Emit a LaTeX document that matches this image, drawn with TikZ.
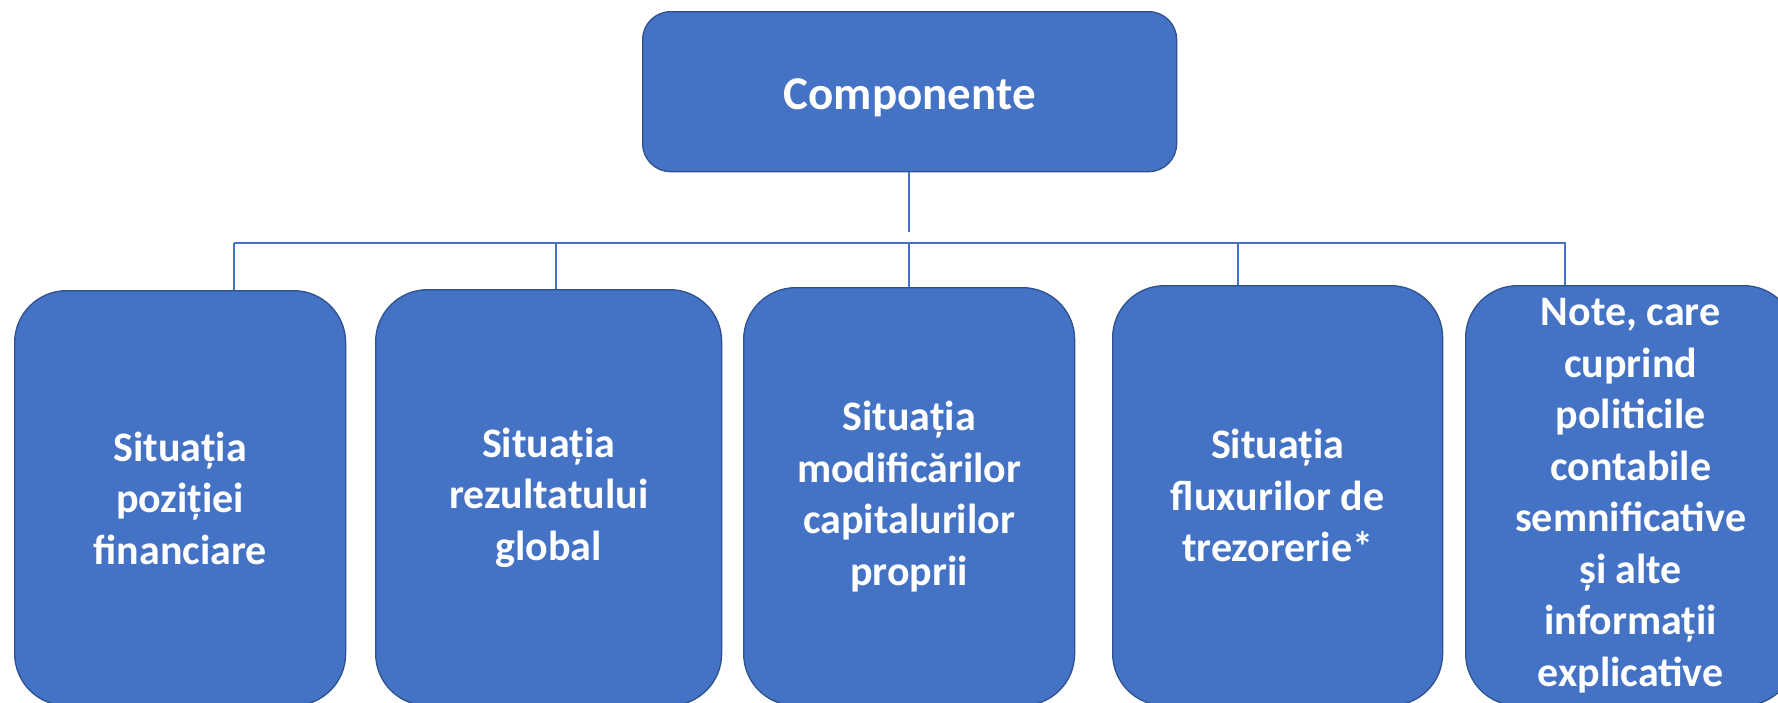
\documentclass[tikz,border=0pt]{standalone}
\usepackage{fontspec}
\setmainfont{Carlito}
\definecolor{boxfill}{HTML}{4472C4}
\definecolor{boxline}{HTML}{2F528F}
\definecolor{linkcol}{HTML}{4472C4}
\tikzset{
  card/.style={draw=boxline, line width=1.3pt, fill=boxfill,
    rounded corners=52pt, anchor=north west, inner sep=0pt,
    text=white, align=center,
    font=\fontsize{42}{51.5}\selectfont\bfseries},
  headcard/.style={card, rounded corners=28pt,
    font=\fontsize{47}{56}\selectfont\bfseries},
  link/.style={draw=linkcol, line width=1.4pt}
}
\begin{document}
\begin{tikzpicture}[x=1pt,y=-1pt]
\useasboundingbox (0,0) rectangle (1778,702);
\clip (0,0) rectangle (1778,702);

% root
\node[headcard, minimum width=534pt, minimum height=160pt] (root) at (642,11) {};
\node[text=white, font=\fontsize{47}{56}\selectfont\bfseries, yshift=-6pt] (roottext) at (root.center) {Componente};

% children
\node[card, minimum width=331pt, minimum height=415pt] (c1) at (14,290)
  {Situația\\poziției\\financiare};
\node[card, minimum width=346pt, minimum height=416pt] (c2) at (375,289)
  {Situația\\rezultatului\\global};
\node[card, minimum width=331pt, minimum height=418pt] (c3) at (743,287)
  {Situația\\modificărilor\\capitalurilor\\proprii};
\node[card, minimum width=330pt, minimum height=420pt] (c4) at (1112,285)
  {Situația\\fluxurilor de\\trezorerie*};
\node[card, minimum width=330pt, minimum height=420pt] (c5) at (1465,285)
  {Note, care\\cuprind\\politicile\\contabile\\semnificative\\și alte\\informații\\explicative};

% bus
\coordinate (stemend) at (909,232);
\coordinate (busL) at (234,243);
\coordinate (busR) at (1566,243);
\coordinate (d1) at (234,243);
\coordinate (d2) at (556,243);
\coordinate (d3) at (909,243);
\coordinate (d4) at (1238,243);
\coordinate (d5) at (1565,243);

\draw[link] (root.south -| stemend) -- (stemend);
\draw[link] (busL) -- (busR);
\draw[link] (d1) -- (c1.north -| d1);
\draw[link] (d2) -- (c2.north -| d2);
\draw[link] (d3) -- (c3.north -| d3);
\draw[link] (d4) -- (c4.north -| d4);
\draw[link] (d5) -- (c5.north -| d5);
\end{tikzpicture}
\end{document}
